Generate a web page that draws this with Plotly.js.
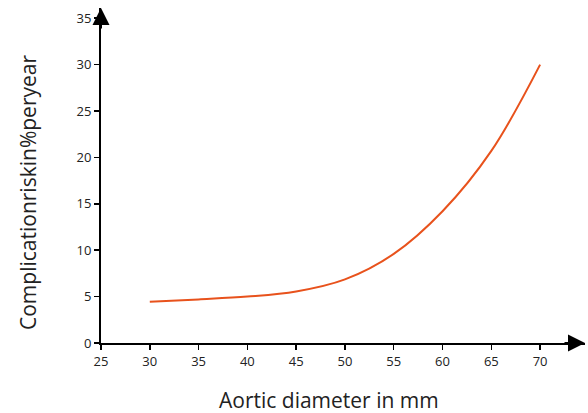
<!DOCTYPE html>
<html>
<head>
<meta charset="utf-8">
<script src="https://cdn.plot.ly/plotly-3.0.1.min.js"></script>
<style>html,body{margin:0;padding:0;background:#fff;}#chart{width:588px;height:413px;}</style>
</head>
<body>
<div id="chart"></div>
<script>
const diameter = [30, 35, 40, 45, 50, 55, 60, 65, 70];
const risk = [4.45, 4.7, 5.0, 5.55, 6.85, 9.6, 14.2, 20.7, 30.0];
const xTicks = [25, 30, 35, 40, 45, 50, 55, 60, 65, 70];
const yTicks = [0, 5, 10, 15, 20, 25, 30, 35];
const xTitle = "Aortic diameter in mm";
const yTitle = "Complicationriskin%peryear";

const font = "Open Sans, Noto Sans, sans-serif";
const trace = {
  x: diameter, y: risk, type: "scatter", mode: "lines",
  line: {color: "#E8521C", width: 2, shape: "spline", smoothing: 1},
  hoverinfo: "skip"
};
const layout = {
  width: 588, height: 413,
  margin: {l: 101, r: 3, t: 8, b: 70},
  paper_bgcolor: "#fff", plot_bgcolor: "#fff",
  showlegend: false,
  font: {family: font, color: "#222"},
  xaxis: {
    range: [25, 74.6], tickvals: xTicks, ticktext: xTicks.map(String),
    showgrid: false, zeroline: false, showline: true, linecolor: "#000", linewidth: 2,
    ticks: "outside", ticklen: 5, tickwidth: 1.5, tickcolor: "#000",
    tickfont: {size: 13, color: "#222", family: font}
  },
  yaxis: {
    range: [0, 36.1], tickvals: yTicks, ticktext: yTicks.map(String),
    showgrid: false, zeroline: false, showline: true, linecolor: "#000", linewidth: 2,
    ticks: "outside", ticklen: 5, tickwidth: 1.5, tickcolor: "#000",
    tickfont: {size: 13, color: "#222", family: font}
  },
  annotations: [
    {xref: "paper", yref: "paper", x: 0, y: 1, ax: 0, ay: 22, axref: "pixel", ayref: "pixel",
     text: "", showarrow: true, arrowhead: 2, arrowsize: 1.7, arrowwidth: 2, arrowcolor: "#000"},
    {xref: "paper", yref: "paper", x: 1, y: 0, ax: -22, ay: 0, axref: "pixel", ayref: "pixel",
     text: "", showarrow: true, arrowhead: 2, arrowsize: 1.7, arrowwidth: 2, arrowcolor: "#000"},
    {xref: "paper", yref: "paper", x: (329 - 101) / 484, y: -0.17, yanchor: "middle", xanchor: "center",
     text: xTitle, showarrow: false, font: {size: 21, color: "#222", family: font}},
    {xref: "paper", yref: "paper", x: (28 - 101) / 484, y: (343 - 193) / 335, yanchor: "middle", xanchor: "center",
     text: yTitle, textangle: -90, showarrow: false, font: {size: 21, color: "#222", family: font}}
  ]
};
Plotly.newPlot("chart", [trace], layout, {displayModeBar: false, staticPlot: true});
</script>
</body>
</html>
